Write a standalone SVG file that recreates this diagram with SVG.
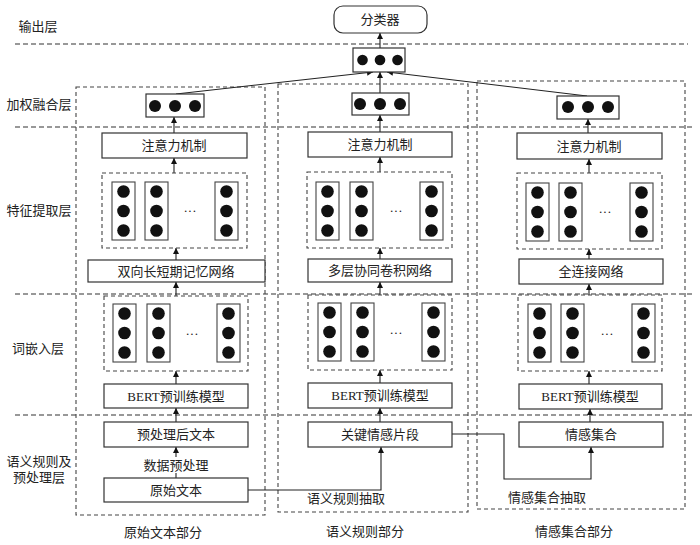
<svg xmlns="http://www.w3.org/2000/svg" width="700" height="545" viewBox="0 0 700 545">
<defs>
<style>
text{font-family:"Liberation Serif","Noto Sans CJK SC",serif;font-size:13px;fill:#222;text-anchor:middle}
.box{fill:#fff;stroke:#333;stroke-width:1.2}
.col{fill:#fff;stroke:#444;stroke-width:1.1}
.dash{fill:none;stroke:#444;stroke-width:1.1;stroke-dasharray:4 3}
.sep{fill:none;stroke:#333;stroke-width:1.1;stroke-dasharray:5 3}
.dot{fill:#111}
.conn{fill:none;stroke:#222;stroke-width:1.1}
</style>
<marker id="ah" viewBox="0 0 10 10" refX="10" refY="5" markerWidth="6" markerHeight="7" markerUnits="userSpaceOnUse" orient="auto">
<path d="M0,0 L10,5 L0,10 z" fill="#111"/>
</marker>
<g id="col3">
<rect class="col" x="0" y="0" width="23" height="58"/>
<circle class="dot" cx="11.5" cy="9.5" r="6.3"/>
<circle class="dot" cx="11.5" cy="29" r="6.3"/>
<circle class="dot" cx="11.5" cy="48.5" r="6.3"/>
</g>
<g id="row3">
<circle class="dot" cx="0" cy="0" r="6"/>
<circle class="dot" cx="20" cy="0" r="6"/>
<circle class="dot" cx="40" cy="0" r="6"/>
</g>
<g id="row3s">
<circle class="dot" cx="0" cy="0" r="5.3"/>
<circle class="dot" cx="17.5" cy="0" r="5.3"/>
<circle class="dot" cx="35" cy="0" r="5.3"/>
</g>
</defs>
<rect width="700" height="545" fill="#fff"/>

<g id="layers">
<line class="sep" x1="15" y1="44" x2="688" y2="44"/>
<line class="sep" x1="15" y1="127" x2="695" y2="127"/>
<line class="sep" x1="15" y1="294" x2="695" y2="294"/>
<line class="sep" x1="15" y1="415" x2="695" y2="415"/>
<text x="38" y="31">输出层</text>
<text x="39" y="109">加权融合层</text>
<text x="39" y="215">特征提取层</text>
<text x="38" y="353">词嵌入层</text>
<text x="39" y="466">语义规则及</text>
<text x="39" y="482">预处理层</text>
</g>

<g id="panels">
<rect class="dash" x="76" y="87" width="189" height="428"/>
<rect class="dash" x="278" y="84" width="190" height="428"/>
<rect class="dash" x="477" y="81" width="208" height="428"/>
<text x="163" y="537">原始文本部分</text>
<text x="365" y="536">语义规则部分</text>
<text x="574" y="536">情感集合部分</text>
</g>

<g id="connectors">
<line class="conn" x1="380" y1="48" x2="380" y2="33" marker-end="url(#ah)"/>
<line class="conn" x1="176" y1="94" x2="373" y2="72" marker-end="url(#ah)"/>
<line class="conn" x1="380" y1="93" x2="380" y2="72" marker-end="url(#ah)"/>
<line class="conn" x1="587" y1="96" x2="387" y2="72" marker-end="url(#ah)"/>
<line class="conn" x1="174" y1="133" x2="174" y2="117" marker-end="url(#ah)"/>
<line class="conn" x1="380" y1="132" x2="380" y2="115" marker-end="url(#ah)"/>
<line class="conn" x1="588" y1="133" x2="588" y2="119" marker-end="url(#ah)"/>
<line class="conn" x1="174" y1="173" x2="174" y2="158" marker-end="url(#ah)"/>
<line class="conn" x1="380" y1="172" x2="380" y2="157" marker-end="url(#ah)"/>
<line class="conn" x1="589" y1="173" x2="589" y2="159" marker-end="url(#ah)"/>
<line class="conn" x1="176" y1="260" x2="176" y2="248" marker-end="url(#ah)"/>
<line class="conn" x1="380" y1="259" x2="380" y2="248" marker-end="url(#ah)"/>
<line class="conn" x1="589" y1="259" x2="589" y2="249" marker-end="url(#ah)"/>
<line class="conn" x1="176" y1="296" x2="176" y2="282" marker-end="url(#ah)"/>
<line class="conn" x1="380" y1="295" x2="380" y2="282" marker-end="url(#ah)"/>
<line class="conn" x1="589" y1="295" x2="589" y2="284" marker-end="url(#ah)"/>
<line class="conn" x1="176" y1="384" x2="176" y2="371" marker-end="url(#ah)"/>
<line class="conn" x1="380" y1="383" x2="380" y2="370" marker-end="url(#ah)"/>
<line class="conn" x1="589" y1="384" x2="589" y2="371" marker-end="url(#ah)"/>
<line class="conn" x1="176" y1="422" x2="176" y2="408" marker-end="url(#ah)"/>
<line class="conn" x1="380" y1="422" x2="380" y2="408" marker-end="url(#ah)"/>
<line class="conn" x1="590" y1="422" x2="590" y2="409" marker-end="url(#ah)"/>
<line class="conn" x1="176" y1="478" x2="176" y2="473"/>
<line class="conn" x1="176" y1="457" x2="176" y2="447" marker-end="url(#ah)"/>
<polyline class="conn" points="248,490 381,490 381,447" marker-end="url(#ah)"/>
<polyline class="conn" points="452,434 504,434 504,479 591,479 591,447" marker-end="url(#ah)"/>
<text x="346" y="503">语义规则抽取</text>
<text x="547" y="502">情感集合抽取</text>
<text x="176" y="470">数据预处理</text>
</g>

<g id="classifier">
<rect class="box" x="334" y="6" width="93" height="27" rx="9"/>
<text x="380" y="24">分类器</text>
</g>
<g id="fusion-top">
<rect class="box" x="353" y="48" width="52" height="24"/>
<use href="#row3s" x="362.5" y="60"/>
</g>

<g id="fusion-left">
<rect class="box" x="146" y="94" width="58" height="23"/>
<use href="#row3" x="155" y="106"/>
</g>
<g id="fusion-mid">
<rect class="box" x="352" y="93" width="57" height="22"/>
<use href="#row3" x="360" y="104"/>
</g>
<g id="fusion-right">
<rect class="box" x="557" y="96" width="62" height="23"/>
<use href="#row3" x="568" y="107"/>
</g>

<g id="attn-left"><rect class="box" x="102" y="133" width="145" height="25"/><text x="174" y="150">注意力机制</text></g>
<g id="attn-mid"><rect class="box" x="308" y="132" width="144" height="25"/><text x="380" y="149">注意力机制</text></g>
<g id="attn-right"><rect class="box" x="517" y="133" width="145" height="26"/><text x="589" y="151">注意力机制</text></g>

<g id="feat-left">
<rect class="dash" x="102" y="173" width="145" height="75"/>
<use href="#col3" x="112" y="182"/><use href="#col3" x="145" y="182"/><use href="#col3" x="215" y="182"/>
<text x="190" y="215">···</text>
</g>
<g id="feat-mid">
<rect class="dash" x="307" y="172" width="145" height="76"/>
<use href="#col3" x="316" y="182"/><use href="#col3" x="350" y="182"/><use href="#col3" x="420" y="182"/>
<text x="396" y="215">···</text>
</g>
<g id="feat-right">
<rect class="dash" x="517" y="173" width="145" height="76"/>
<use href="#col3" x="526" y="183"/><use href="#col3" x="559" y="183"/><use href="#col3" x="630" y="183"/>
<text x="605" y="216">···</text>
</g>

<g id="net-left"><rect class="box" x="88" y="260" width="177" height="22"/><text x="176" y="276">双向长短期记忆网络</text></g>
<g id="net-mid"><rect class="box" x="308" y="259" width="144" height="23"/><text x="380" y="275">多层协同卷积网络</text></g>
<g id="net-right"><rect class="box" x="519" y="259" width="144" height="25"/><text x="591" y="276">全连接网络</text></g>

<g id="emb-left">
<rect class="dash" x="104" y="296" width="144" height="75"/>
<use href="#col3" x="113" y="304"/><use href="#col3" x="147" y="304"/><use href="#col3" x="217" y="304"/>
<text x="192" y="338">···</text>
</g>
<g id="emb-mid">
<rect class="dash" x="308" y="295" width="144" height="75"/>
<use href="#col3" x="318" y="303"/><use href="#col3" x="351" y="303"/><use href="#col3" x="422" y="303"/>
<text x="396" y="337">···</text>
</g>
<g id="emb-right">
<rect class="dash" x="518" y="295" width="144" height="76"/>
<use href="#col3" x="528" y="304"/><use href="#col3" x="561" y="304"/><use href="#col3" x="632" y="304"/>
<text x="607" y="338">···</text>
</g>

<g id="bert-left"><rect class="box" x="104" y="384" width="144" height="24"/><text x="176" y="401">BERT预训练模型</text></g>
<g id="bert-mid"><rect class="box" x="308" y="383" width="144" height="25"/><text x="380" y="400">BERT预训练模型</text></g>
<g id="bert-right"><rect class="box" x="519" y="384" width="143" height="25"/><text x="590" y="401">BERT预训练模型</text></g>

<g id="pre-left"><rect class="box" x="104" y="422" width="144" height="25"/><text x="176" y="439">预处理后文本</text></g>
<g id="raw-left"><rect class="box" x="104" y="478" width="144" height="24"/><text x="176" y="495">原始文本</text></g>
<g id="key-mid"><rect class="box" x="308" y="422" width="144" height="25"/><text x="380" y="439">关键情感片段</text></g>
<g id="set-right"><rect class="box" x="519" y="422" width="144" height="25"/><text x="591" y="439">情感集合</text></g>
</svg>
